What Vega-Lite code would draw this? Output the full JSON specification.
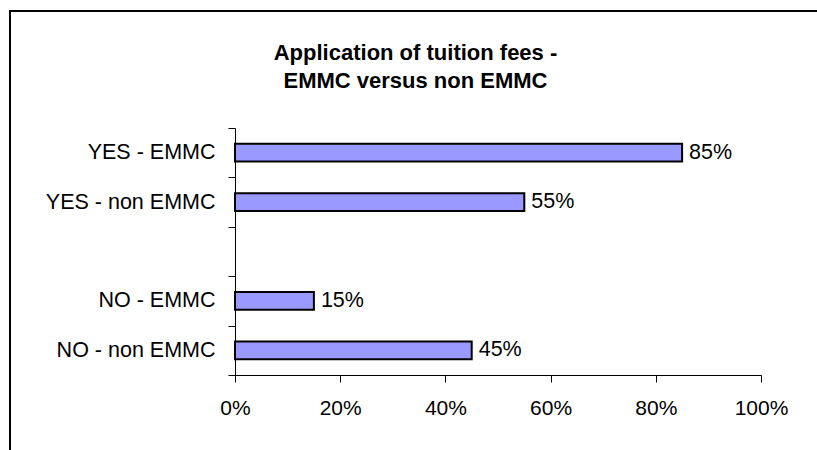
{
  "$schema": "https://vega.github.io/schema/vega-lite/v6.json",
  "width": 807,
  "height": 439,
  "autosize": {"type": "none"},
  "padding": {"left": 10, "top": 11, "right": 0, "bottom": 0},
  "background": "white",
  "title": {
    "text": ["Application of tuition fees -", "EMMC versus non EMMC"],
    "font": "Liberation Sans",
    "fontSize": 22,
    "fontWeight": "bold",
    "color": "black",
    "anchor": "middle",
    "baseline": "alphabetic",
    "offset": -61,
    "dy": 49,
    "dx": 2,
    "lineHeight": 28
  },
  "data": {
    "values": [
      {"category": "YES - EMMC", "value": 0.85},
      {"category": "YES - non EMMC", "value": 0.55},
      {"category": "NO - EMMC", "value": 0.15},
      {"category": "NO - non EMMC", "value": 0.45}
    ]
  },
  "encoding": {
    "y": {
      "field": "category",
      "type": "nominal",
      "sort": null,
      "scale": {
        "domain": ["YES - EMMC", "YES - non EMMC", " ", "NO - EMMC", "NO - non EMMC"],
        "range": [117, 364],
        "paddingInner": 0,
        "paddingOuter": 0
      },
      "axis": {
        "orient": "left",
        "offset": -225,
        "title": null,
        "grid": false,
        "domainColor": "black",
        "domainWidth": 1,
        "tickColor": "black",
        "tickWidth": 1,
        "tickSize": 7,
        "tickBand": "extent",
        "labelFont": "Liberation Sans",
        "labelFontSize": 21.5,
        "labelColor": "black",
        "labelPadding": 13
      }
    },
    "x": {
      "field": "value",
      "type": "quantitative",
      "scale": {"domain": [0, 1], "range": [225, 751], "nice": false},
      "axis": {
        "orient": "bottom",
        "offset": -75,
        "title": null,
        "grid": false,
        "values": [0, 0.2, 0.4, 0.6, 0.8, 1],
        "format": ".0%",
        "domainColor": "black",
        "domainWidth": 1,
        "tickColor": "black",
        "tickWidth": 1,
        "tickSize": 7,
        "labelFont": "Liberation Sans",
        "labelFontSize": 21,
        "labelColor": "black",
        "labelPadding": 15,
        "labelFlush": false,
        "labelOverlap": false
      }
    }
  },
  "layer": [
    {"mark": {"type": "bar", "fill": "#9999FF", "stroke": "black", "strokeWidth": 2, "height": {"band": 0.36}}},
    {
      "mark": {"type": "text", "align": "left", "baseline": "middle", "dx": 7, "fontSize": 21.5, "font": "Liberation Sans", "color": "black"},
      "encoding": {"text": {"field": "value", "format": ".0%"}}
    }
  ],
  "config": {
    "view": {"stroke": "black", "strokeWidth": 2, "strokeDash": [807, 1246, 439]}
  }
}
